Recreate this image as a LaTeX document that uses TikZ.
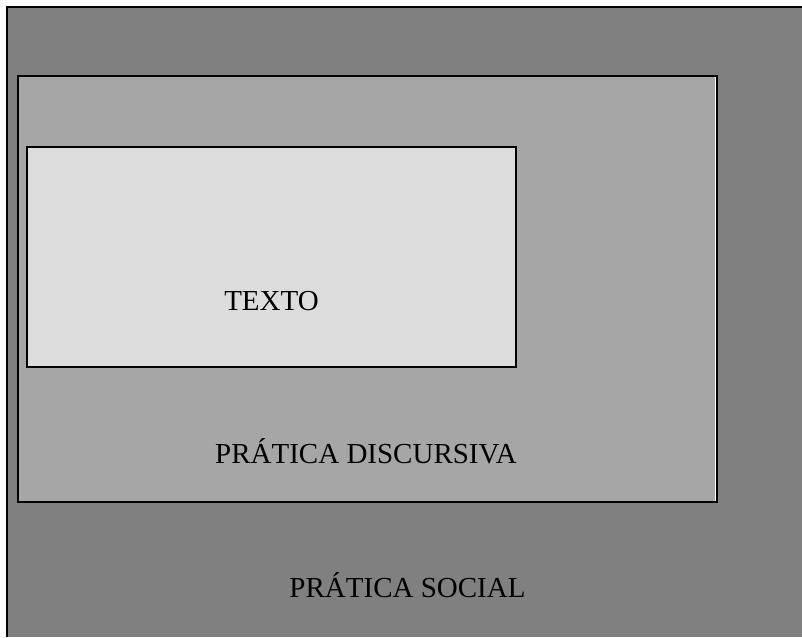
\documentclass[tikz,border=0pt]{standalone}
\usepackage{fontspec}
\setmainfont{Liberation Serif}

\definecolor{social}{rgb}{0.502,0.502,0.502}
\definecolor{discursiva}{rgb}{0.651,0.651,0.651}
\definecolor{texto}{rgb}{0.863,0.863,0.863}

\tikzset{
	caixa/.style={draw=black,line width=2pt},
	rotulo/.style={anchor=base,inner sep=0pt,font=\fontsize{29}{34}\selectfont}
}

\begin{document}
\begin{tikzpicture}[x=1pt,y=-1pt]

	\useasboundingbox (0,0) rectangle (802,637);
	\fill[white] (0,0) rectangle (802,637);

	% pratica social
	\fill[social] (7,7) rectangle (802,637);
	\draw[line width=2pt] (7,637) -- (7,7) -- (802,7);

	% pratica discursiva
	\draw[caixa,fill=discursiva] (18,76) rectangle (717,502);
	\draw[white,line width=1pt] (715.5,77) -- (715.5,501);

	% texto
	\draw[caixa,fill=texto] (27,147) rectangle (516,367);

	\node[rotulo] at (271.5,310) (t) {TEXTO};
	\node[rotulo] at (366,463) (d) {PRÁTICA DISCURSIVA};
	\node[rotulo] at (407.5,597) (s) {PRÁTICA SOCIAL};

\end{tikzpicture}
\end{document}
